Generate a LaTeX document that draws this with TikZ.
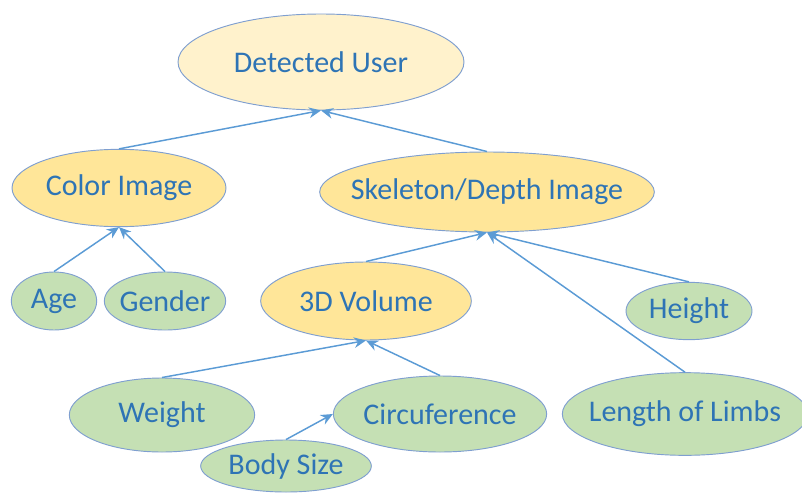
\documentclass[tikz,border=0pt]{standalone}
\usepackage{fontspec}
\setmainfont{Carlito}
\usetikzlibrary{shapes.geometric,arrows.meta}
\definecolor{txtblue}{HTML}{2E74B5}
\definecolor{edgeblue}{HTML}{5B9BD5}
\definecolor{rimblue}{HTML}{7F9FD0}
\definecolor{paleyellow}{HTML}{FFF2CC}
\definecolor{gold}{HTML}{FFE699}
\definecolor{leaf}{HTML}{C5E0B4}
% zero-width label so the ellipse size is set by minimum width/height only
\newcommand{\lbl}[1]{\makebox[0pt]{#1}}
\tikzset{
  bubble/.style={ellipse, draw=rimblue, line width=0.7pt, inner sep=0pt,
    text=txtblue, font=\fontsize{22.5}{27}\selectfont},
  topnode/.style={bubble, fill=paleyellow},
  midnode/.style={bubble, fill=gold},
  leafnode/.style={bubble, fill=leaf},
  link/.style={draw=edgeblue, line width=1.1pt, -{Stealth[length=9pt,width=8pt]}}
}
\begin{document}
\begin{tikzpicture}[x=0.75pt,y=-0.75pt]
\useasboundingbox (0,0) rectangle (802,492);
% top of the hierarchy
\node[topnode, minimum width=214.5pt, minimum height=72pt] (user) at (321,62) {\lbl{Detected User}};
% sensing sources
\node[midnode, minimum width=160.5pt, minimum height=58pt] (color) at (119,188) {\lbl{Color Image}};
\node[midnode, minimum width=251pt, minimum height=60pt] (skel) at (487,192) {\lbl{Skeleton/Depth Image}};
\node[midnode, minimum width=158pt, minimum height=58.5pt] (vol) at (366,301) {\lbl{3D Volume}};
% attributes
\node[leafnode, minimum width=64pt, minimum height=43.5pt] (age) at (54,301) {\lbl{Age}};
\node[leafnode, minimum width=91pt, minimum height=43.5pt] (gender) at (165,301) {\lbl{Gender}};
\node[leafnode, minimum width=94.5pt, minimum height=43pt] (height) at (689,311) {\lbl{Height}};
\node[leafnode, minimum width=139pt, minimum height=55.5pt] (weight) at (162,415) {\lbl{Weight}};
\node[leafnode, minimum width=160pt, minimum height=57pt] (circ) at (440,414) {\lbl{Circuference}};
\node[leafnode, minimum width=184pt, minimum height=62pt] (limbs) at (685,414) {\lbl{Length of Limbs}};
\node[leafnode, minimum width=128pt, minimum height=39pt] (body) at (286,466) {\lbl{Body Size}};
% connectors
\draw[link] (color.north) -- (user.south);
\draw[link] (skel.north) -- (user.south);
\draw[link] (age.north) -- (color.south);
\draw[link] (gender.north) -- (color.south);
\draw[link] (vol.north) -- (skel.south);
\draw[link] (height.north) -- (skel.south);
\draw[link] (limbs.north) -- (skel.south);
\draw[link] (weight.north) -- (vol.south);
\draw[link] (circ.north) -- (vol.south);
\draw[link] (body.north) -- (circ.west);
\end{tikzpicture}
\end{document}
